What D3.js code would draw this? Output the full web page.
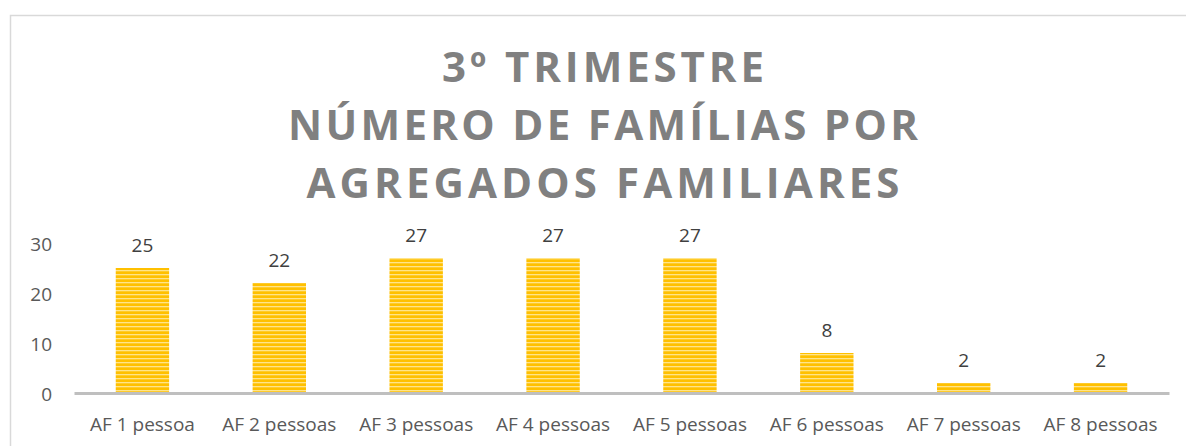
<!DOCTYPE html>
<html><head><meta charset="utf-8">
<script src="https://cdn.jsdelivr.net/npm/d3@7"></script>
<style>body{margin:0;background:#fff}svg{display:block}</style>
</head><body>
<svg id="c" width="1186" height="446"></svg>
<script>
const titleLines = ["3º TRIMESTRE", "NÚMERO DE FAMÍLIAS POR", "AGREGADOS FAMILIARES"];
const categories = ["AF 1 pessoa","AF 2 pessoas","AF 3 pessoas","AF 4 pessoas","AF 5 pessoas","AF 6 pessoas","AF 7 pessoas","AF 8 pessoas"];
const values = [25,22,27,27,27,8,2,2];
const yTicks = [0,10,20,30];

const svg = d3.select("#c");
const W = 1186, H = 446;
const m = {left:74, right:17, top:243, bottom:53};

// pattern
const defs = svg.append("defs");
const pat = defs.append("pattern").attr("id","stripes").attr("patternUnits","userSpaceOnUse")
  .attr("width",8).attr("height",4);
pat.append("rect").attr("width",8).attr("height",4).attr("fill","#FFC000");
pat.append("rect").attr("y",2).attr("width",8).attr("height",1.3).attr("fill","#FFE48A");

// chart frame
svg.append("path").attr("d",`M10.5,${H} V15.5 H${W}`).attr("fill","none").attr("stroke","#D9D9D9").attr("stroke-width",1.5);

const x = d3.scaleBand().domain(categories).range([m.left, W - m.right]).paddingInner(0.61).paddingOuter(0.305);
const y = d3.scaleLinear().domain([0,30]).range([H - m.bottom, m.top]);

// title
const title = svg.append("g").attr("fill","#808080").attr("font-family","'Open Sans', sans-serif")
  .attr("font-weight","700").attr("font-size",42).attr("text-anchor","middle");
const targetW = [322, 630, 593];
titleLines.forEach((t,i)=>{
  const el = title.append("text").attr("x",603).attr("y",82 + i*58).text(t);
  const n = t.length;
  const w0 = el.node().getComputedTextLength();
  const ls = (targetW[i]-w0)/(n-1);
  el.attr("letter-spacing",ls).attr("x",603 + ls/2);
});

// y axis labels
const ya = svg.append("g").attr("transform",`translate(${m.left-22},1.5)`)
  .call(d3.axisLeft(y).tickValues(yTicks).tickSize(0).tickPadding(0));
ya.select(".domain").remove();
ya.selectAll("text").attr("font-family","'Open Sans', sans-serif").attr("font-size",19).attr("fill","#595959");

// bars
svg.append("g").selectAll("rect").data(values).join("rect")
  .attr("x",(d,i)=>x(categories[i])).attr("width",x.bandwidth())
  .attr("y",d=>y(d)).attr("height",d=>y(0)-y(d)).attr("fill","url(#stripes)");

// value labels
svg.append("g").selectAll("text").data(values).join("text")
  .attr("x",(d,i)=>x(categories[i])+x.bandwidth()/2).attr("y",d=>y(d)-16)
  .attr("text-anchor","middle").attr("font-family","'Open Sans', sans-serif").attr("font-size",19).attr("fill","#404040")
  .text(d=>d);

// x axis
const xa = svg.append("g").attr("transform",`translate(0,${y(0)})`)
  .call(d3.axisBottom(x).tickSize(0).tickPadding(24.5));
xa.select(".domain").attr("stroke","#BFBFBF").attr("stroke-width",3);
xa.selectAll("text").attr("font-family","'Open Sans', sans-serif").attr("font-size",19).attr("fill","#595959");
</script>
</body></html>
